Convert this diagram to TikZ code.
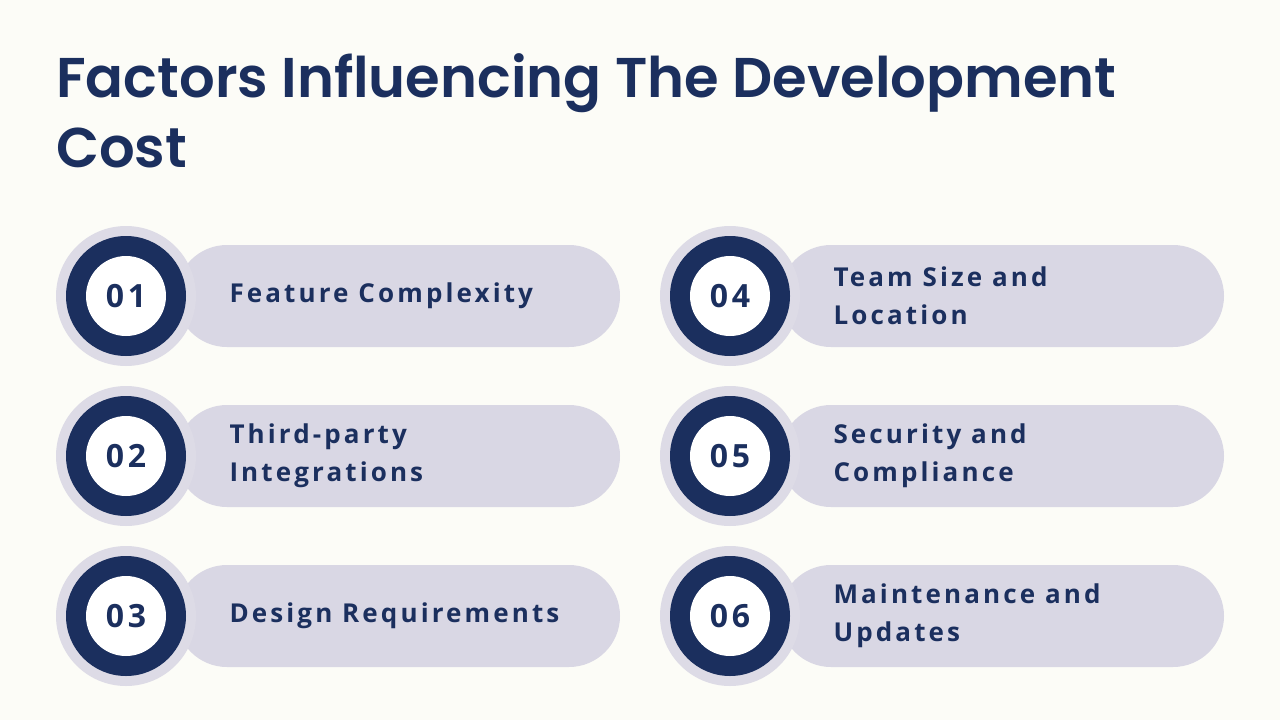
\documentclass[tikz,border=0pt]{standalone}
\usepackage{fontspec}
\setmainfont{Open Sans}
\newfontfamily\titlefont{Poppins}[UprightFont=* SemiBold,BoldFont=* Bold]
\newfontfamily\labelfont{Open Sans}[LetterSpace=12,UprightFont=* Bold]
\definecolor{navy}{HTML}{1B2F5E}
\definecolor{pill}{HTML}{D9D7E4}
\definecolor{halo}{HTML}{DDDBE6}
\definecolor{bg}{HTML}{FCFCF7}
\begin{document}
\begin{tikzpicture}[x=1pt,y=-1pt,
  pillbox/.style={fill=pill,rounded corners=51pt},
  lbl/.style={anchor=west,align=left,text=navy,font=\labelfont\fontsize{26}{38}\selectfont},
  num/.style={text=navy,font=\labelfont\fontsize{32}{36}\selectfont}]
\fill[bg] (0,0) rectangle (1280,720);
\useasboundingbox (0,0) rectangle (1280,720);
\node[anchor=base west,text=navy,font=\titlefont\fontsize{56}{70}\selectfont,align=left,inner sep=0] (title) at (56,97) {Factors Influencing The Development};
\node[anchor=base west,text=navy,font=\titlefont\fontsize{56}{70}\selectfont,inner sep=0] (title2) at (56,167) {Cost};
\foreach \cx/\cy/\n/\t in {126/296/01/{Feature Complexity},126/456/02/{Third-party\\Integrations},126/616/03/{Design Requirements},730/296/04/{Team Size and\\Location},730/456/05/{Security and\\Compliance},730/616/06/{Maintenance and\\Updates}}{
  \fill[pillbox] (\cx+50,\cy-51) rectangle (\cx+494,\cy+51);
  \fill[halo] (\cx,\cy) circle (70);
  \fill[navy] (\cx,\cy) circle (60);
  \fill[white] (\cx,\cy) circle (40);
  \node[num] (n\n) at (\cx,\cy) {\n};
  \node[lbl] (l\n) at (\cx+100,\cy) {\t};
}
\end{tikzpicture}
\end{document}
